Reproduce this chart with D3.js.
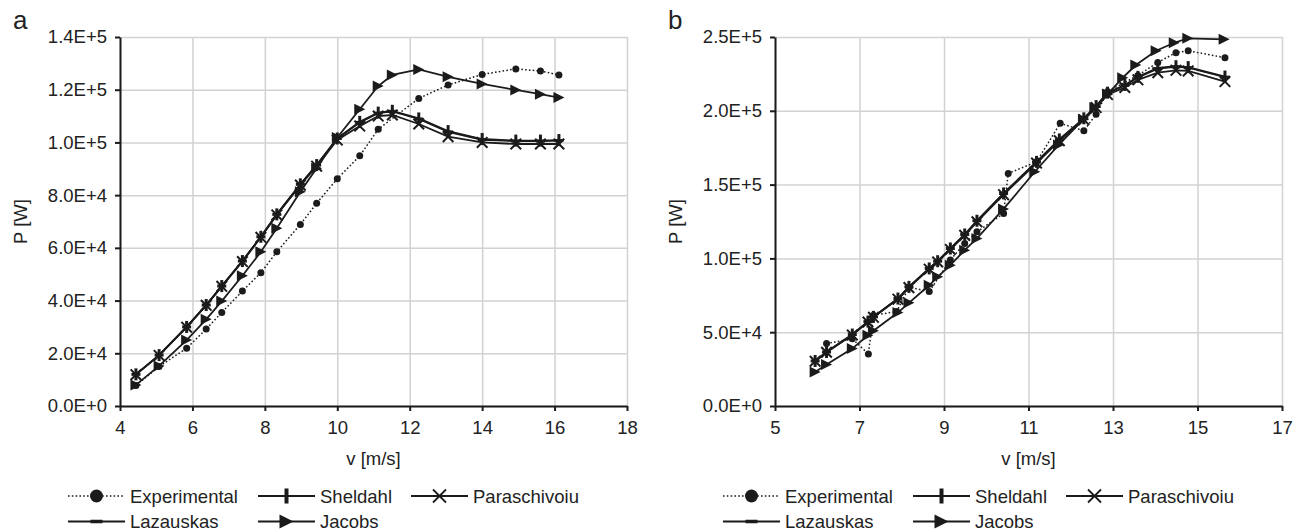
<!DOCTYPE html>
<html>
<head>
<meta charset="utf-8">
<script src="https://cdn.jsdelivr.net/npm/d3@7"></script>
<style>
  body { margin: 0; background: #fff; }
  text { font-family: "Liberation Sans", Arial, sans-serif; fill: #222; }
</style>
</head>
<body>
<svg id="chart" width="1298" height="532"></svg>
<script>
// ---------- Panel a : power curve, wind speed 4-16 m/s ----------
const vA = [4.44, 5.08, 5.84, 6.38, 6.81, 7.38, 7.89, 8.33, 8.98, 9.43, 10.0, 10.62, 11.13, 11.52, 12.25, 13.06, 14.0, 14.93, 15.61, 16.12];
const sheldahlA     = [12.0, 19.3, 30.0, 38.3, 45.5, 55.0, 64.2, 72.7, 84.1, 91.4, 101.5, 107.8, 111.3, 112.0, 109.1, 104.3, 101.3, 100.7, 100.7, 100.9];
const lazauskasA    = [12.0, 19.3, 30.0, 38.3, 45.5, 55.0, 64.2, 72.7, 84.1, 91.4, 101.5, 107.6, 111.1, 111.8, 108.9, 104.0, 101.0, 100.5, 100.5, 100.7];
const paraschivoiuA = [11.9, 19.2, 29.9, 38.2, 45.4, 54.8, 64.0, 72.5, 83.8, 91.0, 100.9, 106.2, 110.0, 110.4, 107.0, 102.2, 100.0, 99.4, 99.4, 99.4];
const jacobsA       = [8.0, 15.2, 25.0, 32.9, 39.8, 49.4, 58.5, 67.4, 81.3, 90.2, 101.9, 112.6, 121.4, 125.6, 127.7, 124.9, 122.2, 119.9, 118.3, 117.0];
const vExpA = [4.44, 5.08, 5.84, 6.38, 6.81, 7.38, 7.89, 8.33, 8.98, 9.43, 10.0, 10.62, 11.13, 12.25, 13.06, 14.0, 14.93, 15.61, 16.12];
const experimentalA = [7.8, 15.0, 21.9, 29.2, 35.5, 43.6, 50.6, 58.5, 68.9, 76.9, 86.2, 94.9, 105.0, 116.7, 121.8, 125.8, 127.9, 127.1, 125.6];

// ---------- Panel b : power curve, wind speed 6-16 m/s ----------
const vModelB = [5.95, 6.22, 6.83, 7.2, 7.33, 7.91, 8.17, 8.65, 8.85, 9.15, 9.49, 9.78, 10.41, 11.19, 11.73, 12.31, 12.60, 12.87, 13.28, 13.59, 14.06, 14.49, 14.78, 15.65];
const sheldahlB     = [30.5, 36.6, 48.4, 57.2, 60.4, 72.8, 80.7, 93.2, 98.1, 106.7, 116.2, 125.5, 144.0, 165.4, 180.6, 194.9, 203.2, 212.3, 217.5, 223.0, 229.0, 230.2, 229.6, 223.2];
const lazauskasB    = [30.5, 36.6, 48.4, 57.2, 60.4, 72.8, 80.7, 93.2, 98.1, 106.7, 116.2, 125.5, 144.0, 165.3, 180.4, 194.7, 203.0, 212.0, 217.2, 222.6, 228.6, 229.8, 229.2, 222.8];
const paraschivoiuB = [30.3, 36.4, 48.1, 56.9, 60.1, 72.4, 80.2, 92.7, 97.6, 106.1, 115.6, 124.8, 143.2, 164.6, 179.7, 194.0, 202.2, 211.0, 215.8, 221.0, 225.8, 227.4, 227.0, 219.8];
const vJacobsB = [5.95, 6.22, 6.83, 7.2, 7.33, 7.91, 8.17, 8.65, 8.85, 9.15, 9.49, 9.78, 10.41, 11.15, 11.71, 12.30, 12.57, 12.87, 13.23, 13.54, 14.02, 14.45, 14.77, 15.63];
const jacobsB       = [23.1, 28.1, 38.9, 47.9, 51.0, 63.3, 69.9, 81.8, 87.5, 95.4, 105.6, 113.5, 133.5, 158.7, 176.8, 194.2, 202.3, 211.1, 222.4, 231.0, 240.7, 246.1, 249.1, 248.4];
const vExpB = [6.22, 6.83, 7.21, 7.33, 7.88, 8.17, 8.65, 9.15, 9.49, 9.78, 10.41, 10.52, 11.19, 11.75, 12.31, 12.60, 12.87, 13.59, 14.06, 14.49, 14.78, 15.65];
const experimentalB = [42.3, 45.5, 35.3, 61.5, 64.0, 80.5, 77.5, 99.0, 110.1, 118.0, 130.4, 157.6, 165.4, 191.5, 186.5, 197.6, 213.0, 224.0, 232.8, 239.4, 240.7, 236.0];

// ---------- Axis ticks ----------
const xTicksA = [4, 6, 8, 10, 12, 14, 16, 18];
const yTicksA = [0, 20000, 40000, 60000, 80000, 100000, 120000, 140000];
const xTicksB = [5, 7, 9, 11, 13, 15, 17];
const yTicksB = [0, 50000, 100000, 150000, 200000, 250000];

const seriesNames = ["Experimental", "Sheldahl", "Paraschivoiu", "Lazauskas", "Jacobs"];
const markerOf = { Experimental: "dot", Sheldahl: "vbar", Lazauskas: "hbar", Paraschivoiu: "cross", Jacobs: "tri" };

const INK = "#1b1b1b";
const GRID = "#d2d2d2";

const svg = d3.select("#chart");

function zip(vs, ps) { return vs.map((v, i) => ({ v: v, p: ps[i] * 1000 })); }

// Draw one marker of the given type centred at (cx, cy); "big" is the legend size
function drawMarker(g, type, cx, cy, big) {
  if (type === "dot") {
    g.append("circle").attr("cx", cx).attr("cy", cy).attr("r", big ? 6.5 : 3.5).attr("fill", INK);
  } else if (type === "vbar") {
    const w = big ? 4 : 3, h = big ? 15 : 12;
    g.append("rect").attr("x", cx - w / 2).attr("y", cy - h / 2).attr("width", w).attr("height", h).attr("fill", INK);
  } else if (type === "hbar") {
    const w = big ? 12 : 9, h = big ? 3.5 : 3;
    g.append("rect").attr("x", cx - w / 2).attr("y", cy - h / 2).attr("width", w).attr("height", h).attr("fill", INK);
  } else if (type === "cross") {
    const s = big ? 6.5 : 5.3;
    g.append("path")
      .attr("d", `M${cx - s},${cy - s}L${cx + s},${cy + s}M${cx - s},${cy + s}L${cx + s},${cy - s}`)
      .attr("stroke", INK).attr("stroke-width", big ? 1.8 : 2).attr("fill", "none");
  } else if (type === "tri") {
    const w = big ? 14 : 11, h = big ? 14 : 11;
    g.append("path")
      .attr("d", `M${cx - w / 2},${cy - h / 2}L${cx + w / 2},${cy}L${cx - w / 2},${cy + h / 2}Z`)
      .attr("fill", INK);
  }
}

function panel(opts) {
  const left = opts.left, top = 37, width = 507, height = 369;
  const g = svg.append("g").attr("transform", `translate(${left},${top})`);

  const x = d3.scaleLinear().domain(opts.xDomain).range([0, width]);
  const y = d3.scaleLinear().domain(opts.yDomain).range([height, 0]);

  // grid
  g.append("g").attr("class", "grid")
    .call(d3.axisLeft(y).tickValues(opts.yTicks).tickSize(-width).tickFormat(""))
    .call(s => s.select(".domain").remove())
    .call(s => s.selectAll("line").attr("stroke", GRID).attr("stroke-width", 1.5));
  g.append("g").attr("class", "grid").attr("transform", `translate(0,${height})`)
    .call(d3.axisBottom(x).tickValues(opts.xTicks).tickSize(-height).tickFormat(""))
    .call(s => s.select(".domain").remove())
    .call(s => s.selectAll("line").attr("stroke", GRID).attr("stroke-width", 1.5));

  // axes
  const fmtY = d => d3.format(".1e")(d).replace("e", "E");
  const yAxis = g.append("g")
    .call(d3.axisLeft(y).tickValues(opts.yTicks).tickSize(5).tickSizeOuter(0).tickPadding(8).tickFormat(fmtY));
  const xAxis = g.append("g").attr("transform", `translate(0,${height})`)
    .call(d3.axisBottom(x).tickValues(opts.xTicks).tickSize(5).tickSizeOuter(0).tickPadding(10).tickFormat(d3.format("d")));
  [yAxis, xAxis].forEach(a => {
    a.select(".domain").attr("stroke", INK).attr("stroke-width", 2);
    a.selectAll(".tick line").attr("stroke", INK).attr("stroke-width", 2);
    a.selectAll("text").attr("font-size", 18.5).attr("fill", "#222")
      .attr("font-family", '"Liberation Sans", Arial, sans-serif');
  });

  // axis titles & panel letter
  svg.append("text").attr("transform", `translate(${left - 93},${top + height / 2}) rotate(-90)`)
    .attr("text-anchor", "middle").attr("font-size", 18.5).text("P [W]");
  svg.append("text").attr("x", left + width / 2).attr("y", 465)
    .attr("text-anchor", "middle").attr("font-size", 18.5).text("v [m/s]");
  svg.append("text").attr("x", left - 107).attr("y", 29)
    .attr("font-size", 26).text(opts.letter);

  // series
  const line = d3.line().x(d => x(d.v)).y(d => y(d.p));
  const marks = g.append("g");
  opts.series.forEach(s => {
    marks.append("path").datum(s.data).attr("d", line)
      .attr("fill", "none").attr("stroke", INK)
      .attr("stroke-width", s.name === "Experimental" ? 1.5 : 1.8)
      .attr("stroke-dasharray", s.name === "Experimental" ? "1.6,2.2" : null);
    s.data.forEach(d => drawMarker(marks, markerOf[s.name], x(d.v), y(d.p), false));
  });

  // legend
  const lg = svg.append("g");
  const cols = [left - 52, left + 138, left + 291];
  const rows = [496, 521.5];
  seriesNames.forEach((name, i) => {
    const cx = cols[i % 3], cy = rows[Math.floor(i / 3)];
    lg.append("line").attr("x1", cx).attr("x2", cx + 57).attr("y1", cy).attr("y2", cy)
      .attr("stroke", INK).attr("stroke-width", name === "Experimental" ? 1.5 : 1.8)
      .attr("stroke-dasharray", name === "Experimental" ? "1.6,2.2" : null);
    drawMarker(lg, markerOf[name], cx + 28.5, cy, true);
    lg.append("text").attr("x", cx + 62).attr("y", cy + 6.5).attr("font-size", 18.5).text(name);
  });
}

panel({
  left: 120, letter: "a",
  xDomain: [4, 18], yDomain: [0, 140000], xTicks: xTicksA, yTicks: yTicksA,
  series: [
    { name: "Experimental", data: zip(vExpA, experimentalA) },
    { name: "Sheldahl", data: zip(vA, sheldahlA) },
    { name: "Lazauskas", data: zip(vA, lazauskasA) },
    { name: "Paraschivoiu", data: zip(vA, paraschivoiuA) },
    { name: "Jacobs", data: zip(vA, jacobsA) }
  ]
});

panel({
  left: 775, letter: "b",
  xDomain: [5, 17], yDomain: [0, 250000], xTicks: xTicksB, yTicks: yTicksB,
  series: [
    { name: "Experimental", data: zip(vExpB, experimentalB) },
    { name: "Sheldahl", data: zip(vModelB, sheldahlB) },
    { name: "Lazauskas", data: zip(vModelB, lazauskasB) },
    { name: "Paraschivoiu", data: zip(vModelB, paraschivoiuB) },
    { name: "Jacobs", data: zip(vJacobsB, jacobsB) }
  ]
});
</script>
</body>
</html>
